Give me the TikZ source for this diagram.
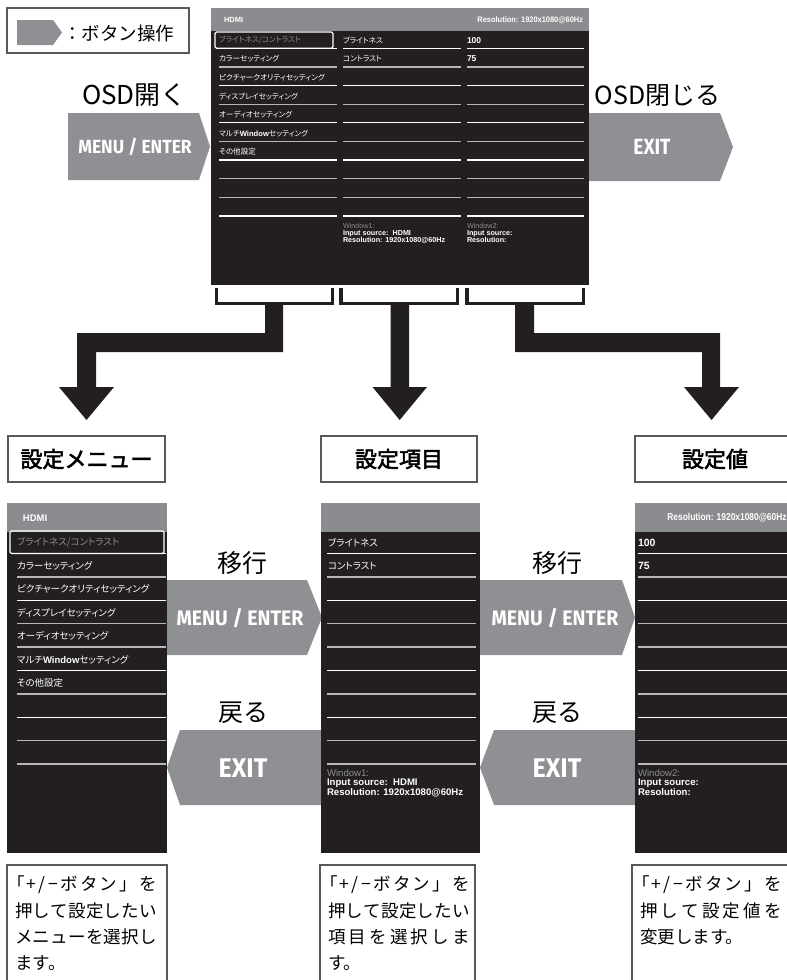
\documentclass[tikz,border=0pt]{standalone}
\usepackage{fontspec}
\usepackage{graphicx}
\setmainfont{Noto Sans CJK JP}
\newfontfamily\jp{Noto Sans CJK JP}
\newfontfamily\jpb[FakeBold=2.5]{Noto Sans CJK JP}
\newfontfamily\jpm[RawFeature=+palt]{Noto Sans CJK JP}
\newfontfamily\ar{Liberation Sans}
\newfontfamily\fira{Fira Sans}
\definecolor{dk}{HTML}{231F20}
\definecolor{hd}{HTML}{8B8C8F}
\definecolor{ag}{HTML}{8E9093}
\definecolor{ln}{HTML}{B5B6B8}
\definecolor{bx}{HTML}{58595B}
\newcommand\fsz[1]{\fontsize{#1}{#1}\selectfont}
\newcommand\btntext[3]{\scalebox{#2}[1]{\fira\bfseries\fsz{#1}#3}}
\newcommand\sline[2]{\hbox to #1{#2}}
\newcommand\firstline{\sline{142pt}{\kern-0.45em「\hfill+\hfill/\hfill−\hfill ボ\hfill タ\hfill ン\hfill 」\hfill を}}
\begin{document}
\begin{tikzpicture}[x=1pt,y=-1pt,
  every node/.style={inner sep=0pt,outer sep=0pt},
  btnarrow/.style={fill=ag,draw=none},
  screen/.style={fill=dk},
  header/.style={fill=hd},
  blackarrow/.style={fill=dk,draw=none},
  bracketline/.style={draw=dk,line width=3.5pt},
  labelbox/.style={draw=bx,line width=1.5pt},
  textbox/.style={draw=bx,line width=1.3pt},
  hilite/.style={draw=white,line width=1.3pt,rounded corners=1.5pt},
  bigjp/.style={font=\jp\fsz{25}},
  lbl/.style={font=\jpb\fsz{22}},
  btn/.style={text=white},
  topmenu/.style={anchor=west,text=white,font=\jpm\fsz{7.6}},
  botmenu/.style={anchor=west,text=white,font=\jpm\fsz{9.5}},
  topinfo/.style={anchor=west,text=white,font=\ar\bfseries\fsz{7.5}},
  botinfo/.style={anchor=west,text=white,font=\ar\bfseries\fsz{10}},
  topwin/.style={anchor=north west,text=white,align=left,font=\ar\fontsize{7.2}{7.1}\selectfont},
  botwin/.style={anchor=north west,text=white,align=left,font=\ar\fontsize{9.6}{8.5}\selectfont},
  desc/.style={anchor=west,font=\jp\fsz{17.5}}
]
\useasboundingbox (0,0) rectangle (787,980);

% ---------- legend ----------
\draw[draw=bx,line width=1.2pt] (7,8) rectangle (189,53);
\fill[ag] (17,20) -- (53,20) -- (62,32.5) -- (53,45) -- (17,45) -- cycle;
\node[anchor=west,font=\jp\fsz{18.5}] (legtxt) at (63,33) {：ボタン操作};

% ---------- top labels & buttons ----------
\node[font=\jp\fsz{26}] (osdopen) at (134.5,95) {OSD開く};
\node[bigjp] (osdclose) at (657.5,95.5) {OSD閉じる};
\fill[btnarrow] (68,113) -- (199,113) -- (210,146.5) -- (199,180) -- (68,180) -- cycle;
\node[btn] (menutop) at (135,147) {\btntext{19}{0.92}{MENU / ENTER}};
\fill[btnarrow] (589,113) -- (720,113) -- (733,147) -- (720,181) -- (589,181) -- cycle;
\node[btn] (exittop) at (652,147) {\btntext{22}{0.87}{EXIT}};

% ---------- top screen ----------
\fill[screen] (211,8) rectangle (589,285);
\fill[header] (211,8) rectangle (589,31);
\node[anchor=west,text=white,font=\ar\bfseries\fsz{7.5}] (thdmi) at (224,20) {HDMI};
\node[anchor=east,text=white,font=\ar\bfseries\fsz{8}] (tres) at (583,20) {\scalebox{0.93}[1]{Resolution: 1920x1080@60Hz}};
\foreach \i/\c in {0/white,1/ln,2/white,3/ln,4/white,5/ln,6/white,7/ln,8/ln,9/white}{
  \pgfmathsetmacro\yy{48.3+18.63*\i}
  \draw[\c,line width=1.2pt] (219,\yy) -- (337,\yy) (343,\yy) -- (461,\yy) (467,\yy) -- (584,\yy);
}
\draw[hilite] (215,32) rectangle (333,48.3);
\node[topmenu,text=hd] (tm0) at (219,40.3) {ブライトネス/コントラスト};
\node[topmenu] (tm1) at (219,58.9) {カラーセッティング};
\node[topmenu] (tm2) at (219,77.6) {ピクチャークオリティセッティング};
\node[topmenu] (tm3) at (219,96.2) {ディスプレイセッティング};
\node[topmenu] (tm4) at (219,114.8) {オーディオセッティング};
\node[topmenu] (tm5) at (219,133.5) {マルチ{\ar\bfseries Window}セッティング};
\node[topmenu] (tm6) at (219,152.1) {その他設定};
\node[topmenu] (ti0) at (343,40.3) {ブライトネス};
\node[topmenu] (ti1) at (343,58.9) {コントラスト};
\node[topinfo,font=\ar\bfseries\fsz{8.5}] (tv0) at (467,40.3) {100};
\node[topinfo,font=\ar\bfseries\fsz{8.5}] (tv1) at (467,58.9) {75};
\node[topwin] (tw1) at (343,223.5) {\textcolor{hd}{Window1:}\\\bfseries Input source:\ \ HDMI\\\bfseries Resolution: 1920x1080@60Hz};
\node[topwin] (tw2) at (467,223.5) {\textcolor{hd}{Window2:}\\\bfseries Input source:\\\bfseries Resolution:};

% ---------- brackets ----------
\draw[bracketline] (216.5,288) -- (216.5,303.5) -- (332.5,303.5) -- (332.5,288);
\draw[bracketline] (341,288) -- (341,303.5) -- (457.5,303.5) -- (457.5,288);
\draw[bracketline] (467,288) -- (467,303.5) -- (583.5,303.5) -- (583.5,288);

% ---------- thick arrows ----------
\fill[blackarrow] (265,303) -- (283,303) -- (283,352) -- (96,352) -- (96,387) -- (114,387)
  -- (86.5,420) -- (59,387) -- (77,387) -- (77,333) -- (265,333) -- cycle;
\fill[blackarrow] (390.5,303) -- (409,303) -- (409,387) -- (427,387) -- (399.7,420)
  -- (372.5,387) -- (390.5,387) -- cycle;
\fill[blackarrow] (515,303) -- (534,303) -- (534,333) -- (720,333) -- (720,387) -- (739,387)
  -- (711.5,420) -- (684,387) -- (702,387) -- (702,352) -- (515,352) -- cycle;

% ---------- section labels ----------
\draw[labelbox] (8,436) rectangle (165,482);
\node[lbl] (lmenu) at (86.5,459) {設定メニュー};
\draw[labelbox] (321,436) rectangle (477,482);
\node[lbl] (litem) at (399,459) {設定項目};
\draw[labelbox] (795,436) -- (635,436) -- (635,482) -- (795,482);
\node[lbl] (lval) at (715,459) {設定値};

% ---------- bottom buttons ----------
\fill[btnarrow] (166,580) -- (307,580) -- (322,617.5) -- (307,655) -- (166,655) -- cycle;
\fill[btnarrow] (480,580) -- (622,580) -- (635,617.5) -- (622,655) -- (480,655) -- cycle;
\fill[btnarrow] (322,730) -- (180,730) -- (167,767.5) -- (180,805) -- (322,805) -- cycle;
\fill[btnarrow] (636,730) -- (494,730) -- (480,767.5) -- (494,805) -- (636,805) -- cycle;
\node[btn] (menu1) at (240,618) {\btntext{21}{0.93}{MENU / ENTER}};
\node[btn] (menu2) at (555,618) {\btntext{21}{0.93}{MENU / ENTER}};
\node[btn] (exit1) at (243,768) {\btntext{27}{0.93}{EXIT}};
\node[btn] (exit2) at (557,768) {\btntext{27}{0.93}{EXIT}};
\node[bigjp] (go1) at (242,563) {移行};
\node[bigjp] (go2) at (557,563) {移行};
\node[bigjp] (back1) at (243,713) {戻る};
\node[bigjp] (back2) at (557,713) {戻る};

% ---------- bottom panels ----------
\fill[screen] (7,503) rectangle (167,853);
\fill[header] (7,503) rectangle (167,532);
\fill[screen] (321,503) rectangle (480,853);
\fill[header] (321,503) rectangle (480,532);
\fill[screen] (635,503) rectangle (795,853);
\fill[header] (635,503) rectangle (795,532);
\foreach \i/\c in {0/white,1/ln,2/white,3/ln,4/ln,5/white,6/ln,7/white,8/ln,9/ln}{
  \pgfmathsetmacro\yy{553.5+23.4*\i}
  \draw[\c,line width=1.4pt] (17,\yy) -- (166,\yy) (327,\yy) -- (476,\yy) (638,\yy) -- (795,\yy);
}
\draw[hilite] (10,531) rectangle (164,553.5);
\node[anchor=west,text=white,font=\ar\bfseries\fsz{9.5}] (bhdmi) at (23,518) {HDMI};
\node[text=white,font=\ar\bfseries\fsz{10}] (bres) at (727,518) {\scalebox{0.84}[1]{Resolution: 1920x1080@60Hz}};
\node[botmenu,text=hd] (bm0) at (17,542.5) {ブライトネス/コントラスト};
\node[botmenu] (bm1) at (17,565.9) {カラーセッティング};
\node[botmenu] (bm2) at (17,589.3) {ピクチャークオリティセッティング};
\node[botmenu] (bm3) at (17,612.7) {ディスプレイセッティング};
\node[botmenu] (bm4) at (17,636.1) {オーディオセッティング};
\node[botmenu] (bm5) at (17,659.5) {マルチ{\ar\bfseries Window}セッティング};
\node[botmenu] (bm6) at (17,682.9) {その他設定};
\node[botmenu] (bi0) at (328,542.5) {ブライトネス};
\node[botmenu] (bi1) at (328,565.9) {コントラスト};
\node[botinfo,font=\ar\bfseries\fsz{10.5}] (bv0) at (638,542.5) {100};
\node[botinfo,font=\ar\bfseries\fsz{10.5}] (bv1) at (638,565.9) {75};
\node[botwin] (bw1) at (327,770) {\textcolor{hd}{Window1:}\\\bfseries Input source:\ \ HDMI\\\bfseries Resolution: 1920x1080@60Hz};
\node[botwin] (bw2) at (638,770) {\textcolor{hd}{Window2:}\\\bfseries Input source:\\\bfseries Resolution:};

% ---------- description boxes ----------
\draw[textbox] (7,990) -- (7,865) -- (167,865) -- (167,990);
\draw[textbox] (320,990) -- (320,865) -- (475,865) -- (475,990);
\draw[textbox] (632,990) -- (632,865) -- (795,865) -- (795,990);
\node[desc] (d1a) at (15,885) {\firstline};
\node[desc] (d1b) at (15,911) {\sline{142pt}{押\hfill し\hfill て\hfill 設\hfill 定\hfill し\hfill た\hfill い}};
\node[desc] (d1c) at (15,937) {\sline{142pt}{メ\hfill ニ\hfill ュ\hfill ー\hfill を\hfill 選\hfill 択\hfill し}};
\node[desc] (d1d) at (15,963) {ます。};
\node[desc] (d2a) at (328,885) {\firstline};
\node[desc] (d2b) at (328,911) {\sline{142pt}{押\hfill し\hfill て\hfill 設\hfill 定\hfill し\hfill た\hfill い}};
\node[desc] (d2c) at (328,937) {\sline{142pt}{項\hfill 目\hfill を\hfill 選\hfill 択\hfill し\hfill ま}};
\node[desc] (d2d) at (328,963) {す。};
\node[desc] (d3a) at (640,885) {\firstline};
\node[desc] (d3b) at (640,911) {\sline{142pt}{押\hfill し\hfill て\hfill 設\hfill 定\hfill 値\hfill を}};
\node[desc] (d3c) at (640,937) {変更します。};
\end{tikzpicture}
\end{document}
